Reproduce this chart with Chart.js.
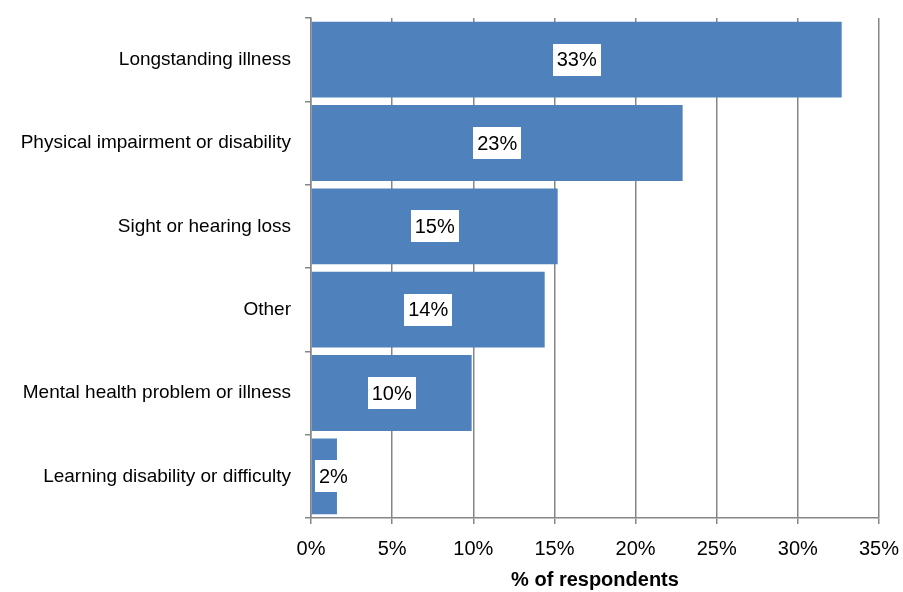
<!DOCTYPE html>
<html>
<head>
<meta charset="utf-8">
<script src="https://cdn.jsdelivr.net/npm/chart.js@4/dist/chart.umd.min.js"></script>
<style>
html,body{margin:0;padding:0;background:#fff;}
#wrap{width:903px;height:592px;position:relative;}
</style>
</head>
<body>
<div id="wrap"><canvas id="c" width="903" height="592"></canvas></div>
<script>
const categories = [
  "Longstanding illness",
  "Physical impairment or disability",
  "Sight or hearing loss",
  "Other",
  "Mental health problem or illness",
  "Learning disability or difficulty"
];
const values = [32.7, 22.9, 15.2, 14.4, 9.9, 1.6];
const valueLabels = ["33%", "23%", "15%", "14%", "10%", "2%"];
const xTicks = [0, 5, 10, 15, 20, 25, 30, 35];
const axisTitle = "% of respondents";

const FONT = "'Liberation Sans', Arial, sans-serif";

const labelPlugin = {
  id: 'boxLabels',
  afterDatasetsDraw(chart) {
    const ctx = chart.ctx;
    const meta = chart.getDatasetMeta(0);
    const area = chart.chartArea;
    ctx.save();
    ctx.font = "20px " + FONT;
    ctx.textBaseline = 'middle';
    ctx.textAlign = 'left';
    meta.data.forEach((bar, i) => {
      const txt = valueLabels[i];
      const tw = ctx.measureText(txt).width;
      const bw = tw + 8, bh = 32;
      let cx = (bar.base + bar.x) / 2;
      let left = cx - bw / 2;
      if (left < area.left + 4) left = area.left + 4;
      ctx.fillStyle = '#ffffff';
      ctx.fillRect(Math.round(left), Math.round(bar.y - bh / 2), Math.round(bw), bh);
      ctx.fillStyle = '#000000';
      ctx.fillText(txt, left + 4, bar.y + 1);
    });
    ctx.restore();
  }
};

new Chart(document.getElementById('c'), {
  type: 'bar',
  data: {
    labels: categories,
    datasets: [{
      data: values,
      backgroundColor: '#4F81BD',
      borderWidth: 0,
      categoryPercentage: 1.0,
      barPercentage: 0.91
    }]
  },
  options: {
    indexAxis: 'y',
    responsive: false,
    animation: false,
    layout: { padding: { top: 18, right: 24, left: 0, bottom: 0 } },
    plugins: { legend: { display: false }, tooltip: { enabled: false } },
    scales: {
      x: {
        min: 0, max: 35,
        afterBuildTicks(scale) { scale.ticks = xTicks.map(v => ({ value: v })); },
        ticks: {
          callback: v => v + '%',
          color: '#000',
          font: { family: FONT, size: 20 },
          padding: 13,
          maxRotation: 0
        },
        grid: { color: '#868686', lineWidth: 1.5, tickLength: 6, drawTicks: true },
        border: { color: '#868686', width: 1.5 },
        title: {
          display: true, text: axisTitle, color: '#000',
          font: { family: FONT, size: 20, weight: 'bold' },
          padding: { top: 2, bottom: 0 }
        },
        afterFit(scale) { scale.height = 74; scale.paddingLeft = 0; scale.paddingRight = 0; }
      },
      y: {
        ticks: {
          color: '#000',
          font: { family: FONT, size: 19 },
          padding: 14
        },
        grid: { drawOnChartArea: false, color: '#868686', lineWidth: 1.5, tickLength: 6, offset: true },
        border: { color: '#868686', width: 1.5 },
        afterFit(scale) { scale.width = 311; scale.paddingTop = 0; scale.paddingBottom = 0; }
      }
    }
  },
  plugins: [labelPlugin]
});
</script>
</body>
</html>
